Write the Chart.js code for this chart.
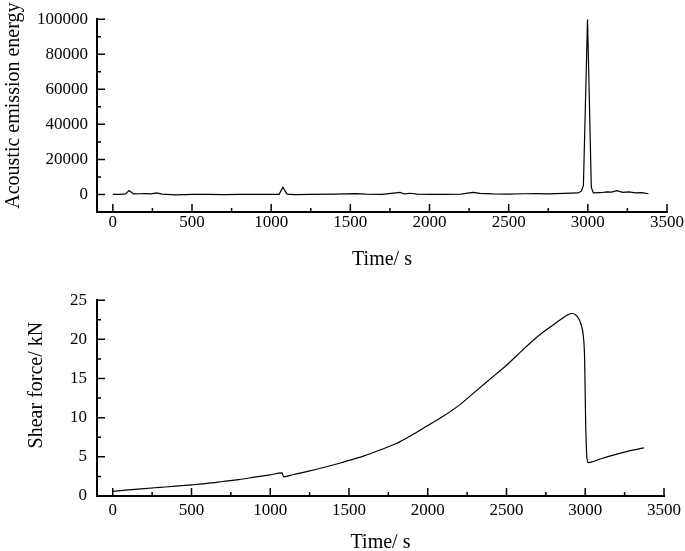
<!DOCTYPE html>
<html>
<head>
<meta charset="utf-8">
<script src="https://cdn.jsdelivr.net/npm/chart.js@4.4.1/dist/chart.umd.min.js"></script>
<style>
  body { margin: 0; background: #fff; width: 685px; height: 551px; overflow: hidden; position: relative; }
  .box { position: absolute; left: 0; width: 685px; }
</style>
</head>
<body>
<div class="box" style="top:0;height:280px"><canvas id="aeChart"></canvas></div>
<div class="box" style="top:280px;height:271px"><canvas id="shearChart"></canvas></div>
<script>
// acoustic emission energy (top panel)
const aeTime = [0, 50, 80, 103, 130, 170, 205, 240, 278, 310, 400, 500, 600, 700, 800, 900, 1000, 1050, 1074, 1100, 1150, 1250, 1400, 1531, 1600, 1700, 1815, 1840, 1880, 1920, 2000, 2100, 2200, 2274, 2320, 2400, 2500, 2600, 2680, 2750, 2850, 2940, 2960, 2972, 2998, 3022, 3035, 3080, 3120, 3150, 3183, 3220, 3260, 3300, 3340, 3383];
const aeEnergy = [0, 100, 300, 2200, 300, 400, 500, 300, 900, 200, -200, 100, 0, -100, 0, 0, 0, 100, 4200, 200, -100, 100, 200, 500, 200, 100, 1200, 300, 700, 200, 100, 100, 200, 1200, 600, 300, 200, 400, 500, 300, 600, 900, 2000, 5000, 100000, 4000, 900, 1000, 1500, 1300, 2200, 1200, 1500, 900, 1100, 400];

// shear force (bottom panel)
const shearTime = [0, 100, 200, 300, 400, 500, 600, 700, 800, 900, 1000, 1075, 1085, 1150, 1250, 1350, 1450, 1500, 1600, 1700, 1800, 1900, 2000, 2100, 2200, 2300, 2400, 2500, 2600, 2700, 2800, 2860, 2890, 2915, 2940, 2960, 2975, 2988, 2996, 3002, 3010, 3020, 3050, 3100, 3200, 3300, 3373];
const shearForce = [0.6, 0.78, 0.95, 1.1, 1.25, 1.42, 1.6, 1.85, 2.1, 2.4, 2.7, 2.95, 2.45, 2.75, 3.2, 3.7, 4.25, 4.55, 5.15, 5.9, 6.7, 7.8, 9.0, 10.2, 11.6, 13.3, 15.0, 16.7, 18.6, 20.4, 21.9, 22.75, 23.15, 23.3, 23.1, 22.6, 21.8, 20.4, 17.5, 10, 5.0, 4.25, 4.4, 4.75, 5.35, 5.85, 6.15];

// tick labels
const timeTicks = [0, 500, 1000, 1500, 2000, 2500, 3000, 3500];
const aeTicks = [0, 20000, 40000, 60000, 80000, 100000];
const shearTicks = [0, 5, 10, 15, 20, 25];

Chart.defaults.font.family = '"Liberation Serif", "Times New Roman", serif';
Chart.defaults.color = '#000';

// Origin-style tick marks pointing into the plot, major + minor, and the y title
const innerTicks = {
  id: 'innerTicks',
  afterDraw(chart, args, opts) {
    const { ctx, chartArea, scales: { x, y } } = chart;
    ctx.save();
    ctx.strokeStyle = '#000';
    ctx.lineWidth = 1.5;
    ctx.beginPath();
    const xs = x.ticks.map(t => t.value);
    xs.forEach((v, i) => {
      const px = x.getPixelForValue(v);
      ctx.moveTo(px, chartArea.bottom); ctx.lineTo(px, chartArea.bottom - 8);
      if (i < xs.length - 1) {
        const mx = x.getPixelForValue((v + xs[i + 1]) / 2);
        ctx.moveTo(mx, chartArea.bottom); ctx.lineTo(mx, chartArea.bottom - 4);
      }
    });
    const ys = y.ticks.map(t => t.value);
    ys.forEach((v, i) => {
      const py = y.getPixelForValue(v);
      ctx.moveTo(chartArea.left, py); ctx.lineTo(chartArea.left + 8, py);
      if (i < ys.length - 1) {
        const my = y.getPixelForValue((v + ys[i + 1]) / 2);
        ctx.moveTo(chartArea.left, my); ctx.lineTo(chartArea.left + 4, my);
      }
    });
    ctx.stroke();

    // y axis title, sits a little above the middle of the axis like the original
    ctx.translate(opts.titleX, (chartArea.top + chartArea.bottom) / 2 - opts.titleShift);
    ctx.rotate(-Math.PI / 2);
    ctx.font = '20px "Liberation Serif", "Times New Roman", serif';
    ctx.fillStyle = '#000';
    ctx.textAlign = 'center';
    ctx.textBaseline = 'middle';
    ctx.fillText(opts.title, 0, 0);
    ctx.restore();
  }
};

function makeChart(id, xs, ys, cfg) {
  return new Chart(document.getElementById(id), {
    type: 'line',
    data: {
      datasets: [{
        data: xs.map((t, i) => ({ x: t, y: ys[i] })),
        borderColor: '#000', borderWidth: 1.2, pointRadius: 0, fill: false,
        tension: cfg.smooth ? 0.4 : 0,
        cubicInterpolationMode: cfg.smooth ? 'monotone' : 'default'
      }]
    },
    options: {
      responsive: true, maintainAspectRatio: false, animation: false,
      layout: { padding: { left: 0, right: 18, top: cfg.top, bottom: 0 } },
      plugins: {
        legend: { display: false }, tooltip: { enabled: false },
        innerTicks: { title: cfg.yTitle, titleX: cfg.yTitleX, titleShift: cfg.yTitleShift }
      },
      scales: {
        x: {
          type: 'linear', min: -100, max: 3500,
          afterBuildTicks: s => { s.ticks = timeTicks.map(v => ({ value: v })); },
          afterFit: s => { s.height = cfg.xHeight; },
          grid: { display: false, drawTicks: false },
          border: { display: true, color: '#000', width: 2 },
          ticks: { padding: cfg.xPad, maxRotation: 0, font: { size: 17 }, callback: v => String(v) },
          title: { display: true, text: 'Time/ s', font: { size: 20, lineHeight: 1 }, padding: { top: 0, bottom: cfg.xTitlePad } }
        },
        y: {
          type: 'linear', min: cfg.yMin, max: cfg.yMax,
          afterBuildTicks: s => { s.ticks = cfg.yTicks.map(v => ({ value: v })); },
          afterFit: s => { s.width = 97; },
          grid: { display: false, drawTicks: false },
          border: { display: true, color: '#000', width: 2 },
          ticks: { padding: cfg.yPad, font: { size: 17 }, callback: v => String(v) }
        }
      }
    },
    plugins: [innerTicks]
  });
}

makeChart('aeChart', aeTime, aeEnergy, {
  top: 13, xHeight: 68, xPad: 0, xTitlePad: 10, yPad: 9,
  yTitle: 'Acoustic emission energy', yTitleX: 14, yTitleShift: 10,
  yMin: -10000, yMax: 100000, yTicks: aeTicks, smooth: false
});
makeChart('shearChart', shearTime, shearForce, {
  top: 17, xHeight: 55, xPad: 4, xTitlePad: -2, yPad: 10,
  yTitle: 'Shear force/ kN', yTitleX: 37, yTitleShift: 13,
  yMin: 0, yMax: 25, yTicks: shearTicks, smooth: true
});
</script>
</body>
</html>
